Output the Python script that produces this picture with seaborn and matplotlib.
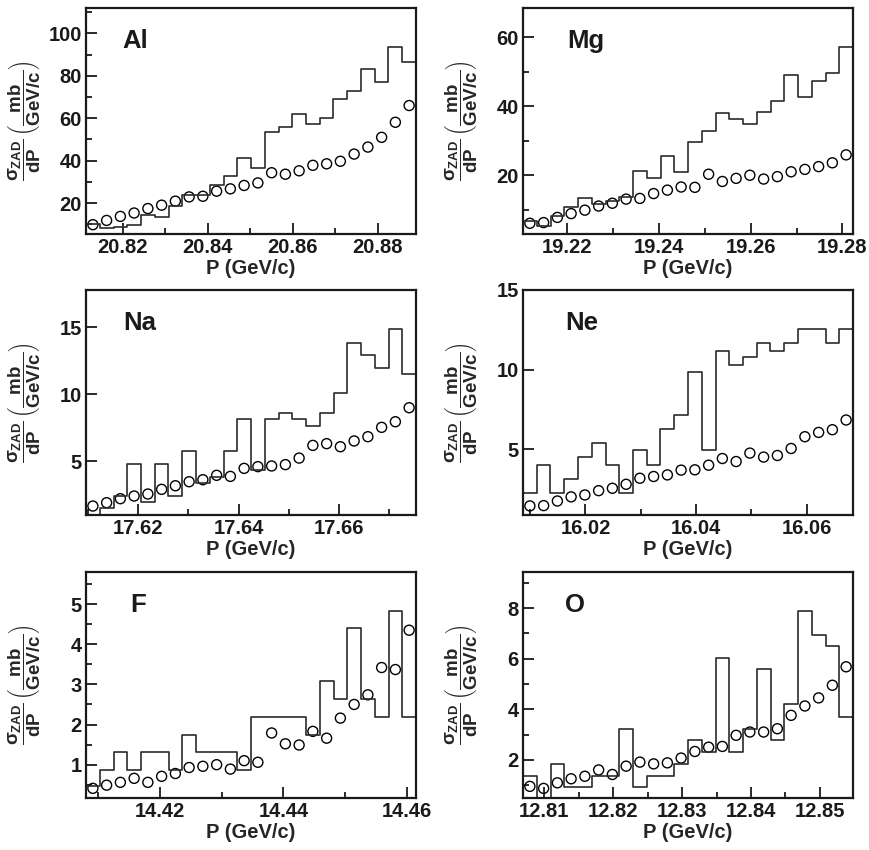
import numpy as np
import pandas as pd
import matplotlib
matplotlib.use("Agg")
import matplotlib.pyplot as plt
from matplotlib.ticker import MultipleLocator, FormatStrFormatter, NullLocator
import seaborn as sns

# ---------------------------------------------------------------- data
nuclei = ["Al", "Mg", "Na", "Ne", "F", "O"]

# momentum range of each histogram (24 equal bins)
p_range = {
    "Al": (20.8114, 20.8890),
    "Mg": (19.2104, 19.2823),
    "Na": (17.6096, 17.6753),
    "Ne": (16.0087, 16.0684),
    "F":  (14.4080, 14.4615),
    "O":  (12.8069, 12.8548),
}

# histogram (line) values
hist_al = [10.3, 8.2, 8.7, 9.5, 14.2, 13.4, 18.6, 23.7, 24.0, 28.4, 32.9, 41.1,
           36.7, 53.7, 55.8, 61.9, 57.3, 59.9, 69.2, 72.7, 83.3, 77.1, 93.7, 86.4]
hist_mg = [6.7, 5.4, 8.1, 10.7, 13.3, 11.8, 12.6, 13.8, 21.1, 19.1, 25.6, 21.0,
           29.7, 32.8, 37.9, 36.3, 34.7, 38.2, 41.6, 48.9, 42.6, 47.4, 49.6, 57.2]
hist_na = [0.9, 1.46, 2.41, 4.75, 1.91, 4.75, 2.38, 5.75, 3.33, 3.83, 5.75, 8.12,
           4.33, 8.12, 8.62, 8.12, 7.62, 8.62, 10.06, 13.85, 12.9, 11.96, 14.85, 11.48]
hist_ne = [2.23, 4.01, 2.23, 3.13, 4.50, 5.38, 4.01, 2.23, 4.92, 4.01, 6.28, 7.16,
           9.85, 4.92, 11.16, 10.29, 10.78, 11.64, 11.18, 11.64, 12.56, 12.56, 11.64, 12.56]
hist_f = [0.475, 0.875, 1.31, 0.875, 1.31, 1.31, 0.875, 1.75, 1.31, 1.31, 1.31, 0.875,
          2.19, 2.19, 2.19, 2.19, 1.74, 3.08, 2.63, 4.41, 2.63, 2.19, 4.84, 2.19]
hist_o = [1.38, 0.40, 1.84, 0.91, 0.91, 1.38, 1.38, 3.23, 0.91, 1.38, 1.38, 1.84,
          2.79, 2.30, 6.01, 2.30, 3.23, 5.58, 2.79, 4.19, 7.87, 6.94, 6.50, 3.70]

# open-circle values
pts_al = [9.8, 11.8, 13.7, 15.3, 17.4, 19.0, 20.9, 22.9, 23.2, 25.6, 26.7, 28.3,
          29.5, 34.3, 33.6, 35.2, 37.8, 38.5, 39.7, 43.1, 46.4, 51.0, 58.1, 66.0]
pts_mg = [6.1, 6.3, 7.8, 8.9, 9.9, 11.1, 11.9, 13.1, 13.3, 14.7, 15.7, 16.6,
          16.5, 20.3, 18.2, 19.1, 20.0, 18.9, 19.6, 21.0, 21.7, 22.5, 23.6, 25.9]
pts_na = [1.63, 1.88, 2.18, 2.38, 2.53, 2.88, 3.15, 3.45, 3.60, 3.93, 3.85, 4.45,
          4.58, 4.63, 4.73, 5.22, 6.17, 6.30, 6.07, 6.50, 6.82, 7.52, 7.94, 8.99]
pts_ne = [1.43, 1.45, 1.74, 2.00, 2.12, 2.39, 2.54, 2.79, 3.17, 3.28, 3.38, 3.68,
          3.70, 3.99, 4.41, 4.22, 4.75, 4.50, 4.60, 5.04, 5.78, 6.05, 6.22, 6.83]
pts_f = [0.41, 0.49, 0.56, 0.66, 0.56, 0.71, 0.78, 0.93, 0.96, 1.00, 0.89, 1.10,
         1.06, 1.79, 1.52, 1.49, 1.83, 1.66, 2.16, 2.50, 2.74, 3.42, 3.37, 4.35]
pts_o = [0.95, 0.87, 1.09, 1.25, 1.35, 1.60, 1.42, 1.75, 1.91, 1.84, 1.88, 2.07,
         2.33, 2.50, 2.53, 2.97, 3.10, 3.10, 3.23, 3.76, 4.13, 4.45, 4.95, 5.68]

hist_vals = {"Al": hist_al, "Mg": hist_mg, "Na": hist_na,
             "Ne": hist_ne, "F": hist_f, "O": hist_o}
pts_vals = {"Al": pts_al, "Mg": pts_mg, "Na": pts_na,
            "Ne": pts_ne, "F": pts_f, "O": pts_o}

# ---------------------------------------------------------------- axis setup
y_limits = {"Al": (5.4, 112), "Mg": (3.0, 68.4), "Na": (0.96, 17.8),
            "Ne": (0.86, 15.0), "F": (0.17, 5.8), "O": (0.49, 9.43)}
y_major = {"Al": 20, "Mg": 20, "Na": 5, "Ne": 5, "F": 1, "O": 2}
y_minor = {"Al": 10, "Mg": 10, "Na": None, "Ne": None, "F": 0.5, "O": 1}
x_major = {"Al": 0.02, "Mg": 0.02, "Na": 0.02, "Ne": 0.02, "F": 0.02, "O": 0.01}
x_minor = {"Al": 0.01, "Mg": 0.01, "Na": 0.01, "Ne": 0.01, "F": 0.01, "O": 0.005}
name_x = {"Al": 0.11, "Mg": 0.133, "Na": 0.112, "Ne": 0.127, "F": 0.133, "O": 0.127}

sns.set_theme(style="ticks")
plt.rcParams["font.family"] = ["Liberation Sans", "DejaVu Sans"]
plt.rcParams["font.weight"] = "bold"
plt.rcParams["mathtext.fontset"] = "custom"
plt.rcParams["mathtext.rm"] = "Liberation Sans:bold"
plt.rcParams["mathtext.it"] = "Liberation Sans:bold"
plt.rcParams["mathtext.bf"] = "Liberation Sans:bold"
plt.rcParams["mathtext.sf"] = "Liberation Sans:bold"

W, H = 869, 850
fig = plt.figure(figsize=(W / 100, H / 100), dpi=100)

# panel frames in pixels: (left, top, right, bottom)
frames = [(86, 8, 416, 234), (523, 8, 853, 234),
          (86, 290, 416, 515), (523, 290, 853, 515),
          (86, 572, 416, 798), (523, 572, 853, 798)]

ylab = r"$\dfrac{\sigma_{ZAD}}{dP}\,\left(\dfrac{mb}{GeV/c}\right)$"

for name, (l, t, r, b) in zip(nuclei, frames):
    ax = fig.add_axes([l / W, 1 - b / H, (r - l) / W, (b - t) / H])
    lo, hi = p_range[name]
    edges = [float(e) for e in np.linspace(lo, hi, len(hist_vals[name]) + 1)]
    centers = [0.5 * (a + c) for a, c in zip(edges[:-1], edges[1:])]
    df = pd.DataFrame({"p": centers, "hist": hist_vals[name], "pts": pts_vals[name]})

    sns.histplot(data=df, x="p", weights="hist", bins=edges, element="step",
                 fill=False, color="#2b2b2b", linewidth=1.2, ax=ax)
    sns.scatterplot(data=df, x="p", y="pts", marker="o", s=52,
                    facecolor="none", edgecolor="black", linewidth=1.0, ax=ax)

    ax.set_xlim(lo, hi)
    ax.set_ylim(*y_limits[name])

    ax.xaxis.set_major_locator(MultipleLocator(x_major[name]))
    ax.xaxis.set_minor_locator(MultipleLocator(x_minor[name]))
    ax.xaxis.set_major_formatter(FormatStrFormatter("%.2f"))
    ax.yaxis.set_major_locator(MultipleLocator(y_major[name]))
    if y_minor[name]:
        ax.yaxis.set_minor_locator(MultipleLocator(y_minor[name]))
    else:
        ax.yaxis.set_minor_locator(NullLocator())
    ax.yaxis.set_major_formatter(FormatStrFormatter("%g"))

    ax.tick_params(which="both", direction="in", top=False, right=False,
                   width=1.3, colors="#1a1a1a", labelsize=14.5, pad=3)
    ax.tick_params(which="major", length=8)
    ax.tick_params(which="minor", length=4)
    for lab in ax.get_xticklabels() + ax.get_yticklabels():
        lab.set_fontweight("bold")
    for sp in ax.spines.values():
        sp.set_visible(True)
        sp.set_linewidth(1.6)
        sp.set_color("#1a1a1a")

    ax.set_xlabel("P (GeV/c)", fontsize=14.5, fontweight="bold", labelpad=1)
    ax.set_ylabel(ylab, fontsize=13.5)
    ax.yaxis.set_label_coords(-0.133, 0.5)

    ax.text(name_x[name], 0.905, name, transform=ax.transAxes, ha="left",
            va="top", fontsize=18.5, fontweight="bold", color="#1a1a1a")

fig.savefig("out.png", dpi=100)
